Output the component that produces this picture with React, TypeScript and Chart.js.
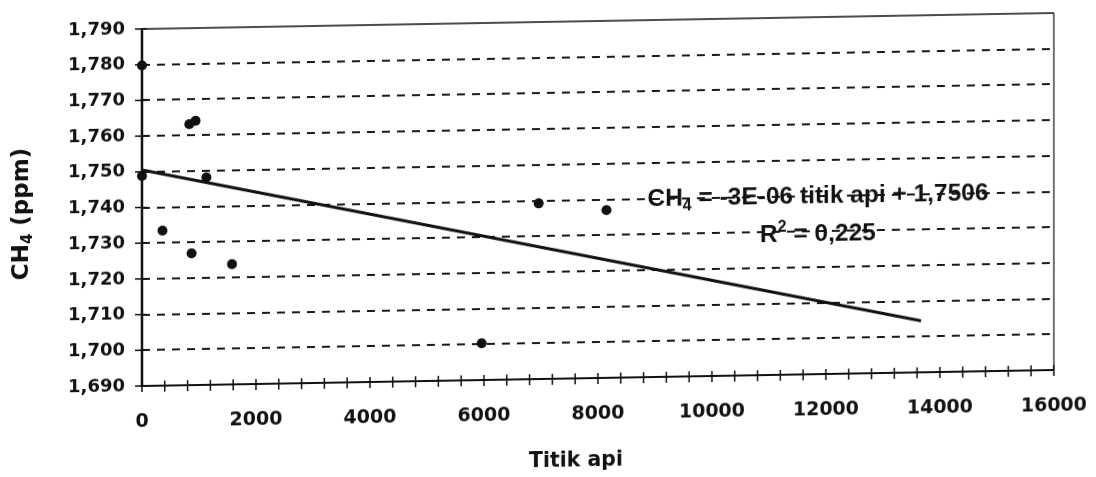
import React, { useEffect, useRef } from 'react';
import { Chart, registerables } from 'chart.js';

Chart.register(...registerables);

// ---- data ----
const titikApi = [0, 0, 360, 830, 940, 870, 1130, 1580, 5960, 6960, 8150];
const ch4Ppm = [1.7798, 1.7488, 1.7334, 1.7631, 1.764, 1.7269, 1.7481, 1.7237, 1.7003, 1.7392, 1.737];
const trendX = [0, 13670];
const trendY = [1.7505, 1.7044];
const yTickValues = [1.69, 1.7, 1.71, 1.72, 1.73, 1.74, 1.75, 1.76, 1.77, 1.78, 1.79];
const xLabelValues = [0, 2000, 4000, 6000, 8000, 10000, 12000, 14000, 16000];
const xMinorStep = 400;

const yTitleParts = ['CH', '4', ' (ppm)'];
const xTitle = 'Titik api';
const eqLine1 = ['CH', '4', ' = -3E-06 titik api + 1,7506'];
const eqLine2 = ['R', '2', ' = 0,225'];
// annotation anchor (data coordinates)
const eqAnchorX = 11860;
const eqAnchorY1 = 1.73793;
const eqAnchorY2 = 1.72728;

const W = 1096;
const H = 500;
const INK = '#111';

type Part = { text: string; size: number; dy: number; w?: number };

function drawRich(ctx: CanvasRenderingContext2D, parts: Part[], cx: number, baseline: number, family: string) {
  let total = 0;
  parts.forEach((p) => {
    ctx.font = `bold ${p.size}px ${family}`;
    p.w = ctx.measureText(p.text).width;
    total += p.w;
  });
  let x = cx - total / 2;
  ctx.textAlign = 'left';
  ctx.textBaseline = 'alphabetic';
  parts.forEach((p) => {
    ctx.font = `bold ${p.size}px ${family}`;
    ctx.fillText(p.text, x, baseline + p.dy);
    x += p.w || 0;
  });
}

const framePlugin = {
  id: 'framePlugin',
  beforeDatasetsDraw(chart: any) {
    const { ctx, chartArea: a, scales } = chart;
    const xs = scales.x;
    const ys = scales.y;
    const seg = (x1: number, y1: number, x2: number, y2: number) => {
      ctx.beginPath();
      ctx.moveTo(x1, y1);
      ctx.lineTo(x2, y2);
      ctx.stroke();
    };
    ctx.save();
    ctx.setLineDash([]);
    ctx.strokeStyle = INK;
    ctx.lineWidth = 1.5;
    seg(a.left, a.top, a.right, a.top);
    ctx.lineWidth = 1.2;
    seg(a.right, a.top, a.right, a.bottom);
    ctx.lineWidth = 2.5;
    seg(a.left, a.top - 1, a.left, a.bottom + 1);
    ctx.lineWidth = 2;
    seg(a.left, a.bottom, a.right, a.bottom);
    ctx.lineWidth = 1.5;
    ys.ticks.forEach((t: any) => {
      const py = ys.getPixelForValue(t.value);
      seg(a.left - 7, py, a.left + 5, py);
    });
    xs.ticks.forEach((t: any) => {
      const px = xs.getPixelForValue(t.value);
      seg(px, a.bottom - 5, px, a.bottom + 6);
    });
    ctx.restore();
  },
  afterDatasetsDraw(chart: any) {
    const { ctx, chartArea: a, scales } = chart;
    const xs = scales.x;
    const ys = scales.y;
    ctx.save();
    ctx.fillStyle = INK;
    const cx = xs.getPixelForValue(eqAnchorX);
    const fam = '"Liberation Sans", Arial, sans-serif';
    drawRich(
      ctx,
      [
        { text: eqLine1[0], size: 24.5, dy: 0 },
        { text: eqLine1[1], size: 16, dy: 5 },
        { text: eqLine1[2], size: 24.5, dy: 0 },
      ],
      cx,
      ys.getPixelForValue(eqAnchorY1),
      fam
    );
    drawRich(
      ctx,
      [
        { text: eqLine2[0], size: 24.5, dy: 0 },
        { text: eqLine2[1], size: 16, dy: -10 },
        { text: eqLine2[2], size: 24.5, dy: 0 },
      ],
      cx,
      ys.getPixelForValue(eqAnchorY2),
      fam
    );
    // x axis title
    drawRich(ctx, [{ text: xTitle, size: 20.5, dy: 0 }], a.left + 434, a.bottom + 87.6, '"DejaVu Sans", sans-serif');
    // y axis title (rotated)
    ctx.translate(20, (a.top + a.bottom) / 2 + 4.5);
    ctx.rotate(-Math.PI / 2);
    drawRich(
      ctx,
      [
        { text: yTitleParts[0], size: 23, dy: 0 },
        { text: yTitleParts[1], size: 15, dy: 4 },
        { text: yTitleParts[2], size: 23, dy: 0 },
      ],
      0,
      8.4,
      '"DejaVu Sans", sans-serif'
    );
    ctx.restore();
  },
};

export default function App() {
  const ref = useRef<HTMLCanvasElement | null>(null);

  useEffect(() => {
    if (!ref.current) return;
    const yFont = { family: '"DejaVu Sans", sans-serif', weight: 'bold' as const, size: 18 };
    const xFont = { family: '"DejaVu Sans", sans-serif', weight: 'bold' as const, size: 19 };
    const chart = new Chart(ref.current, {
      type: 'scatter',
      data: {
        datasets: [
          {
            label: 'CH4',
            data: titikApi.map((x, i) => ({ x, y: ch4Ppm[i] })),
            pointRadius: 5,
            pointBackgroundColor: INK,
            pointBorderWidth: 0,
            showLine: false,
            clip: false as any,
          },
          {
            label: 'trend',
            data: trendX.map((x, i) => ({ x, y: trendY[i] })),
            showLine: true,
            borderColor: INK,
            borderWidth: 3,
            pointRadius: 0,
            clip: false as any,
          },
        ],
      },
      options: {
        responsive: false,
        animation: false,
        devicePixelRatio: 1,
        layout: { padding: { top: 29, right: 42, left: 0, bottom: 0 } },
        plugins: { legend: { display: false }, tooltip: { enabled: false } },
        scales: {
          x: {
            type: 'linear',
            min: 0,
            max: 16000,
            ticks: {
              stepSize: xMinorStep,
              autoSkip: false,
              maxRotation: 0,
              minRotation: 0,
              padding: 25,
              color: INK,
              font: xFont,
              callback: (v: any) => (xLabelValues.includes(Number(v)) ? String(v) : ''),
            },
            grid: { drawOnChartArea: false, drawTicks: false },
            border: { display: false },
            afterFit: (s: any) => {
              s.height = H - 386;
              s.paddingLeft = 0;
              s.paddingRight = 0;
            },
          },
          y: {
            type: 'linear',
            min: 1.69,
            max: 1.79,
            afterBuildTicks: (s: any) => {
              s.ticks = yTickValues.map((value) => ({ value }));
            },
            ticks: {
              padding: 17,
              color: INK,
              font: yFont,
              callback: (v: any) => Number(v).toFixed(3).replace('.', ','),
            },
            grid: {
              drawTicks: false,
              lineWidth: 2,
              color: (c: any) => {
                const v = c.tick ? c.tick.value : 0;
                return Math.abs(v - 1.69) < 1e-6 || Math.abs(v - 1.79) < 1e-6 ? 'rgba(0,0,0,0)' : '#1a1a1a';
              },
              borderDash: [8, 7],
            } as any,
            border: { display: false, dash: [8, 7] },
            afterFit: (s: any) => {
              s.width = 142;
              s.paddingTop = 0;
              s.paddingBottom = 0;
            },
          },
        },
      },
      plugins: [framePlugin],
    } as any);
    return () => chart.destroy();
  }, []);

  return (
    <div style={{ position: 'fixed', left: 0, top: 0, width: W, height: H, background: '#fff' }}>
      <canvas
        ref={ref}
        width={W}
        height={H}
        style={{
          display: 'block',
          width: W,
          height: H,
          transformOrigin: '142px 0px',
          transform: 'skewY(-1.005deg)',
        }}
      />
    </div>
  );
}
